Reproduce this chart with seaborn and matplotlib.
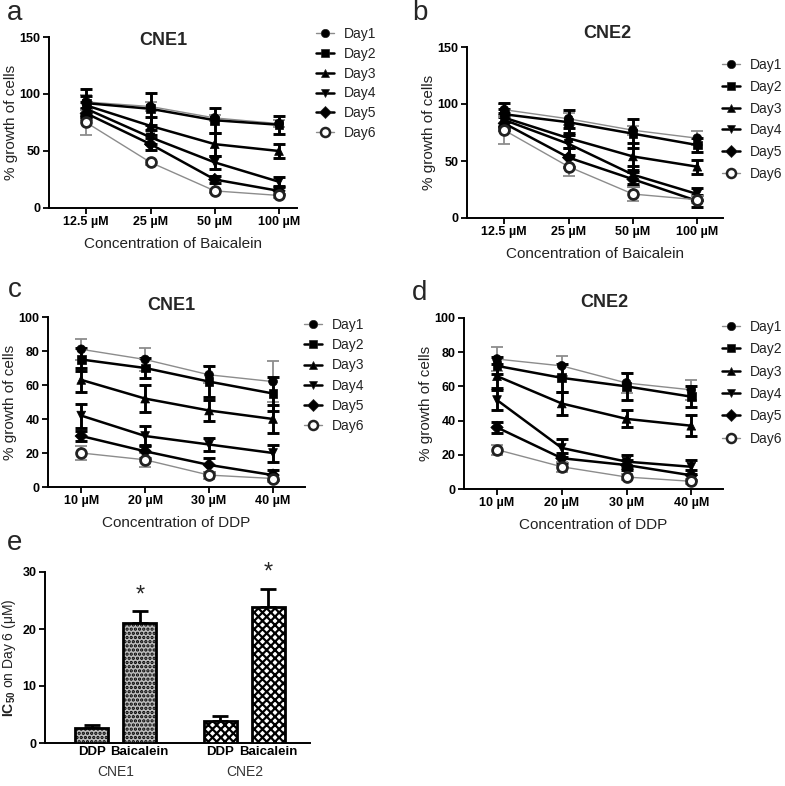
import numpy as np
import pandas as pd
import matplotlib
matplotlib.use("Agg")
import matplotlib.pyplot as plt
import matplotlib.transforms as mtrans
from matplotlib.lines import Line2D
import seaborn as sns

sns.set_theme(style="ticks")
plt.rcParams["font.family"] = ["Liberation Sans", "DejaVu Sans"]
plt.rcParams["mathtext.fontset"] = "custom"
plt.rcParams["mathtext.rm"] = "Liberation Sans"
plt.rcParams["mathtext.bf"] = "Liberation Sans:bold"
plt.rcParams["hatch.linewidth"] = 1.6

# ---------------- data ----------------
days = ["Day1", "Day2", "Day3", "Day4", "Day5", "Day6"]
baicalein_conc = ["12.5 µM", "25 µM", "50 µM", "100 µM"]
ddp_conc = ["10 µM", "20 µM", "30 µM", "40 µM"]

# panel a: CNE1, Baicalein (rows = Day1..Day6)
a_mean = [[93, 89, 79, 74], [92, 87, 77, 73], [90, 72, 56, 50],
          [87, 62, 40, 23], [83, 56, 25, 15], [75, 40, 15, 11]]
a_err = [[6, 4, 3, 3], [12, 14, 11, 8], [8, 8, 10, 6],
         [6, 6, 6, 4], [5, 5, 3, 3], [11, 2, 2, 2]]
# panel b: CNE2, Baicalein
b_mean = [[95, 87, 77, 70], [91, 84, 74, 64], [88, 70, 54, 45],
          [86, 65, 38, 21], [83, 53, 34, 15], [77, 45, 21, 16]]
b_err = [[5, 5, 4, 6], [10, 11, 13, 6], [8, 9, 12, 6],
         [6, 10, 8, 5], [6, 8, 6, 5], [12, 8, 6, 3]]
# panel c: CNE1, DDP
c_mean = [[81, 75, 66, 62], [75, 70, 62, 55], [63, 52, 45, 40],
          [42, 30, 25, 20], [30, 21, 13, 7], [20, 16, 7, 5]]
c_err = [[6, 7, 5, 12], [7, 6, 9, 10], [7, 8, 6, 8],
         [7, 6, 4, 5], [3, 4, 4, 3], [4, 4, 2, 2]]
# panel d: CNE2, DDP
d_mean = [[76, 72, 62, 58], [72, 65, 60, 54], [66, 50, 41, 37],
          [52, 24, 16, 13], [36, 18, 14, 8], [23, 13, 7, 4.5]]
d_err = [[7, 6, 6, 6], [5, 8, 8, 6], [7, 7, 5, 6],
         [6, 5, 4, 4], [3, 3, 3, 3], [3, 3, 2, 1.5]]

# panel e: IC50 on day 6
e_cells = ["CNE1", "CNE1", "CNE2", "CNE2"]
e_drugs = ["DDP", "Baicalein", "DDP", "Baicalein"]
e_ic50 = [2.6, 21.0, 3.8, 23.9]
e_err = [0.5, 2.2, 1.0, 3.2]
e_signif = [False, True, False, True]

# ---------------- styles ----------------
line_color = {"Day1": "#8c8c8c", "Day2": "black", "Day3": "black",
              "Day4": "black", "Day5": "black", "Day6": "#8c8c8c"}
line_width = {"Day1": 1.0, "Day2": 1.8, "Day3": 1.8,
              "Day4": 1.8, "Day5": 1.8, "Day6": 1.0}
markers = {"Day1": "o", "Day2": "s", "Day3": "^", "Day4": "v",
           "Day5": "D", "Day6": "o"}

W, H = 785, 786
fig = plt.figure(figsize=(W / 100, H / 100), dpi=100)


def rect(l, r, t, b):
    return [l / W, 1 - b / H, (r - l) / W, (b - t) / H]


def style_axes(ax):
    sns.despine(ax=ax)
    for s in ("left", "bottom"):
        ax.spines[s].set_linewidth(1.4)
        ax.spines[s].set_color("black")
    ax.tick_params(axis="both", direction="out", length=4, width=1.3,
                   colors="black", labelsize=9, pad=2)


def line_panel(r, concs, means, errs, ylim, yticks, title, title_xy,
               letter, letter_px, xlabel, xlim, leg_anchor, leg_spacing):
    ax = fig.add_axes(rect(*r))
    rows = []
    for di, d in enumerate(days):
        for ci, c in enumerate(concs):
            rows.append({"pos": ci, "conc": c, "day": d,
                         "value": means[di][ci], "err": errs[di][ci]})
    df = pd.DataFrame(rows)
    for d in days:
        sub = df[df.day == d]
        ax.errorbar(sub.pos, sub.value, yerr=sub.err, fmt="none",
                    ecolor=line_color[d], elinewidth=line_width[d] + 0.3,
                    capsize=4, capthick=line_width[d] + 0.3, zorder=2)
    sns.lineplot(data=df, x="pos", y="value", hue="day", size="day",
                 palette=line_color, sizes=line_width, estimator=None,
                 sort=False, legend=False, ax=ax, zorder=3)
    filled = df[df.day != "Day6"]
    sns.scatterplot(data=filled, x="pos", y="value", style="day",
                    markers={k: v for k, v in markers.items() if k != "Day6"},
                    color="black", edgecolor="black", linewidth=0.5, s=40,
                    legend=False, ax=ax, zorder=4)
    sns.scatterplot(data=df[df.day == "Day6"], x="pos", y="value",
                    marker="o", facecolor="white", edgecolor="#222222",
                    linewidth=2.0, s=50, legend=False, ax=ax, zorder=5)
    ax.set_xlim(*xlim)
    ax.set_ylim(*ylim)
    ax.set_xticks(range(len(concs)))
    ax.set_xticklabels(concs, fontweight="bold")
    ax.set_yticks(yticks)
    ax.set_yticklabels([str(v) for v in yticks], fontweight="bold")
    style_axes(ax)
    ax.set_xlabel(xlabel, fontsize=11, labelpad=6, color="#222")
    ax.set_ylabel("% growth of cells", fontsize=11, labelpad=1, color="#222")
    ax.text(title_xy[0], title_xy[1], title, transform=ax.transAxes,
            ha="center", va="center", fontsize=13, fontweight="bold")
    fig.text(letter_px[0] / W, 1 - letter_px[1] / H, letter, ha="center",
             va="center", fontsize=20)
    handles = []
    for d in days:
        handles.append(Line2D([0], [0], color=line_color[d], lw=line_width[d],
                              marker=markers[d], markersize=6 if d != "Day6" else 6.5,
                              markerfacecolor="white" if d == "Day6" else "black",
                              markeredgecolor="#222222",
                              markeredgewidth=1.8 if d == "Day6" else 0.5))
    ax.legend(handles, days, loc="upper left", bbox_to_anchor=leg_anchor,
              frameon=False, fontsize=10, handlelength=1.3,
              handletextpad=0.7, labelspacing=leg_spacing, borderpad=0,
              borderaxespad=0, labelcolor="#222")
    return ax


def anchor(r, x_px, y_px):
    l, rr, t, b = r
    return ((x_px - l) / (rr - l), (b - y_px) / (b - t))


ra = (49, 297, 37, 208)
line_panel(ra, baicalein_conc, a_mean, a_err, (0, 150), [0, 50, 100, 150],
           "CNE1", (0.46, 0.98), "a", (15, 13), "Concentration of Baicalein",
           (-0.58, 3.28), anchor(ra, 316, 27), 0.42)
rb = (467, 723, 47, 218)
line_panel(rb, baicalein_conc, b_mean, b_err, (0, 150), [0, 50, 100, 150],
           "CNE2", (0.55, 1.08), "b", (420, 13), "Concentration of Baicalein",
           (-0.58, 3.4), anchor(rb, 722, 58), 0.56)
rc = (48, 305, 317, 487)
line_panel(rc, ddp_conc, c_mean, c_err, (0, 100), [0, 20, 40, 60, 80, 100],
           "CNE1", (0.48, 1.07), "c", (15, 290), "Concentration of DDP",
           (-0.52, 3.5), anchor(rc, 304, 318), 0.45)
rd = (464, 723, 318, 489)
line_panel(rd, ddp_conc, d_mean, d_err, (0, 100), [0, 20, 40, 60, 80, 100],
           "CNE2", (0.54, 1.09), "d", (420, 293), "Concentration of DDP",
           (-0.51, 3.49), anchor(rd, 722, 320), 0.6)

# ---------------- panel e ----------------
re_ = (45, 310, 572, 743)
ax = fig.add_axes(rect(*re_))
df_e = pd.DataFrame({"cell": e_cells, "drug": e_drugs,
                     "ic50": e_ic50, "err": e_err, "sig": e_signif})
sns.barplot(data=df_e, x="cell", y="ic50", hue="drug",
            hue_order=["DDP", "Baicalein"], order=["CNE1", "CNE2"],
            width=0.747, gap=0.31, errorbar=None, legend=False, ax=ax,
            edgecolor="black", linewidth=2, zorder=3)
centers, labels = [], []
for cont, drug in zip(ax.containers, ["DDP", "Baicalein"]):
    for bar, cell in zip(cont, ["CNE1", "CNE2"]):
        if cell == "CNE1":
            bar.set_facecolor("#bdbdbd")
            bar.set_hatch("....")
        else:
            bar.set_facecolor("white")
            bar.set_hatch("xxxx")
        cx = bar.get_x() + bar.get_width() / 2
        row = df_e[(df_e.cell == cell) & (df_e.drug == drug)].iloc[0]
        ax.errorbar([cx], [row.ic50], yerr=[[0], [row.err]], fmt="none",
                    ecolor="black", elinewidth=2, capsize=6, capthick=2,
                    zorder=2)
        if row.sig:
            ax.text(cx, row.ic50 + row.err + 0.8, "*", ha="center",
                    va="bottom", fontsize=17)
        centers.append(cx)
        labels.append(drug)
ax.set_xticks(centers)
ax.set_xticklabels(labels, fontweight="bold", fontsize=9.5)
ax.set_xlim(-0.55, 1.51)
ax.set_ylim(0, 30)
ax.set_yticks([0, 10, 20, 30])
ax.set_yticklabels(["0", "10", "20", "30"], fontweight="bold")
style_axes(ax)
ax.tick_params(axis="x", length=0, labelsize=9.5)
ax.set_xlabel("")
ax.set_ylabel(r"$\mathbf{IC_{50}}$ on Day 6 (μM)", fontsize=10, labelpad=3,
              color="#222")
trans = mtrans.blended_transform_factory(ax.transData, ax.transAxes)
for i, cell in enumerate(["CNE1", "CNE2"]):
    ax.text(i, -0.17, cell, transform=trans, ha="center", va="center",
            fontsize=10, color="#333")
fig.text(15 / W, 1 - 543 / H, "e", ha="center", va="center", fontsize=20)

fig.savefig("out.png", dpi=100)
